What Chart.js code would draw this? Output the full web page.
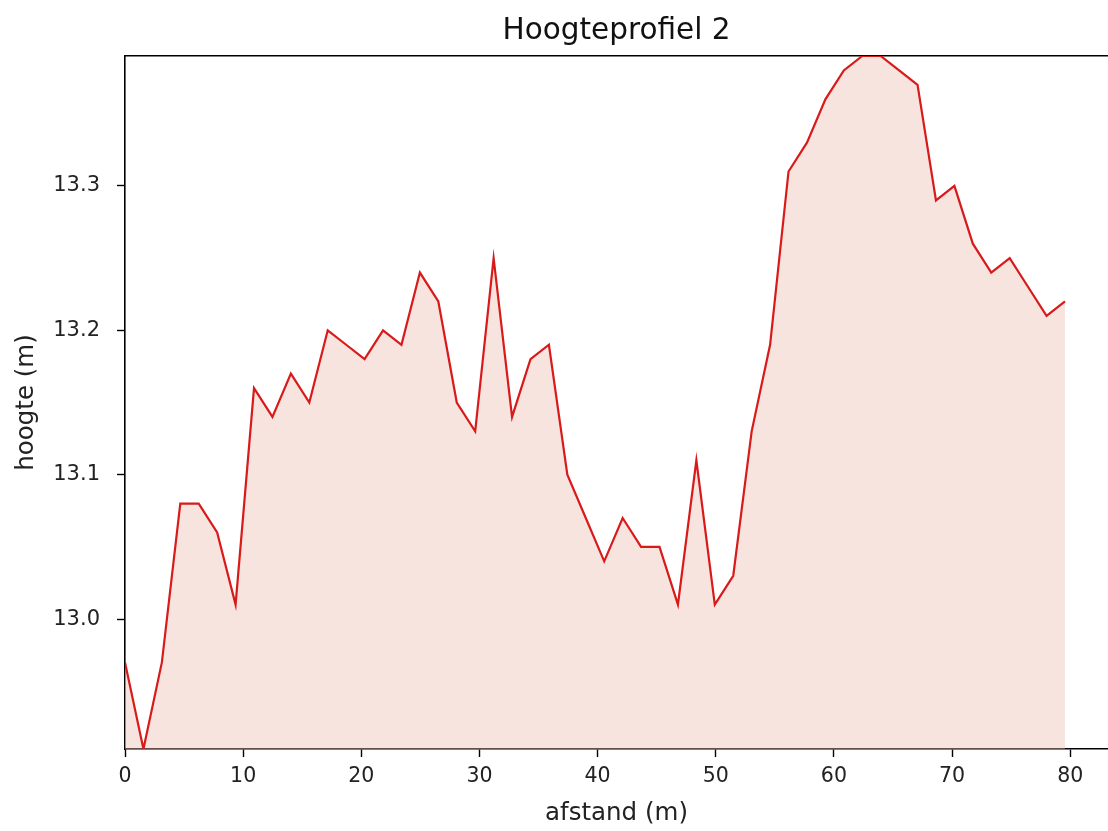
<!DOCTYPE html>
<html>
<head>
<meta charset="utf-8">
<script src="https://cdn.jsdelivr.net/npm/chart.js@4.4.1/dist/chart.umd.min.js"></script>
<style>
  html, body { margin: 0; padding: 0; background: #fff; }
  #wrap { width: 1108px; height: 831px; }
</style>
</head>
<body>
<div id="wrap"><canvas id="profiel" width="1108" height="831"></canvas></div>
<script>
// afstand langs het profiel (m)
var afstand = [0, 1.56, 3.12, 4.68, 6.24, 7.80, 9.36, 10.92, 12.48, 14.04,
  15.60, 17.16, 18.72, 20.28, 21.84, 23.40, 24.96, 26.52, 28.08, 29.64,
  31.20, 32.76, 34.32, 35.88, 37.44, 39.00, 40.56, 42.12, 43.68, 45.24,
  46.80, 48.36, 49.92, 51.48, 53.04, 54.60, 56.16, 57.72, 59.28, 60.84,
  62.40, 63.96, 65.52, 67.08, 68.64, 70.20, 71.76, 73.32, 74.88, 76.44,
  78.00, 79.56];
// hoogte (m)
var hoogte = [12.97, 12.91, 12.97, 13.08, 13.08, 13.06, 13.01, 13.16, 13.14, 13.17,
  13.15, 13.20, 13.19, 13.18, 13.20, 13.19, 13.24, 13.22, 13.15, 13.13,
  13.25, 13.14, 13.18, 13.19, 13.10, 13.07, 13.04, 13.07, 13.05, 13.05,
  13.01, 13.11, 13.01, 13.03, 13.13, 13.19, 13.31, 13.33, 13.36, 13.38,
  13.39, 13.39, 13.38, 13.37, 13.29, 13.30, 13.26, 13.24, 13.25, 13.23,
  13.21, 13.22];
var xTicks = [0, 10, 20, 30, 40, 50, 60, 70, 80];
var yTicks = [13.0, 13.1, 13.2, 13.3];

Chart.defaults.font.family = 'DejaVu Sans';
Chart.defaults.color = '#222';

var punten = afstand.map(function(x, i){ return {x: x, y: hoogte[i]}; });

var tickGrid = { drawOnChartArea: false, drawTicks: true, tickLength: 8, tickColor: '#000', tickWidth: 1.4 };
var spine = { display: true, color: '#000', width: 1.6 };

new Chart(document.getElementById('profiel'), {
  type: 'line',
  data: {
    datasets: [{
      label: 'hoogte',
      data: punten,
      borderColor: '#d81a1a',
      borderWidth: 2.2,
      backgroundColor: 'rgba(236,190,178,0.42)',
      fill: 'start',
      pointRadius: 0,
      tension: 0
    }]
  },
  options: {
    responsive: false,
    animation: false,
    layout: { padding: 0 },
    plugins: {
      legend: { display: false },
      tooltip: { enabled: false },
      title: { display: false }
    },
    scales: {
      x: {
        type: 'linear',
        min: 0,
        max: 83.2,
        afterBuildTicks: function(s){ s.ticks = xTicks.map(function(v){ return {value: v}; }); },
        afterFit: function(s){ s.height = 82; },
        grid: tickGrid,
        border: spine,
        ticks: { font: { size: 20.5 }, padding: 7, maxRotation: 0, autoSkip: false },
        title: { display: true, text: 'afstand (m)', font: { size: 24.5 }, color: '#222', padding: { top: 0, bottom: 3 } }
      },
      // bovenrand met de grafiektitel, gecentreerd boven het assenvlak
      top: {
        type: 'linear',
        position: 'top',
        min: 0,
        max: 83.2,
        afterFit: function(s){ s.height = 56; },
        grid: { display: false },
        border: spine,
        ticks: { display: false },
        title: { display: true, text: 'Hoogteprofiel 2', font: { size: 29.5 }, color: '#111', padding: { top: 14, bottom: 0 } }
      },
      y: {
        min: 12.91,
        max: 13.39,
        afterBuildTicks: function(s){ s.ticks = yTicks.map(function(v){ return {value: v}; }); },
        afterFit: function(s){ s.width = 125; },
        grid: tickGrid,
        border: spine,
        ticks: { font: { size: 21 }, padding: 17, callback: function(v){ return v.toFixed(1); } },
        title: { display: true, text: 'hoogte (m)', font: { size: 24.5 }, color: '#222', padding: { top: 12, bottom: 0 } }
      }
    }
  }
});
</script>
</body>
</html>
